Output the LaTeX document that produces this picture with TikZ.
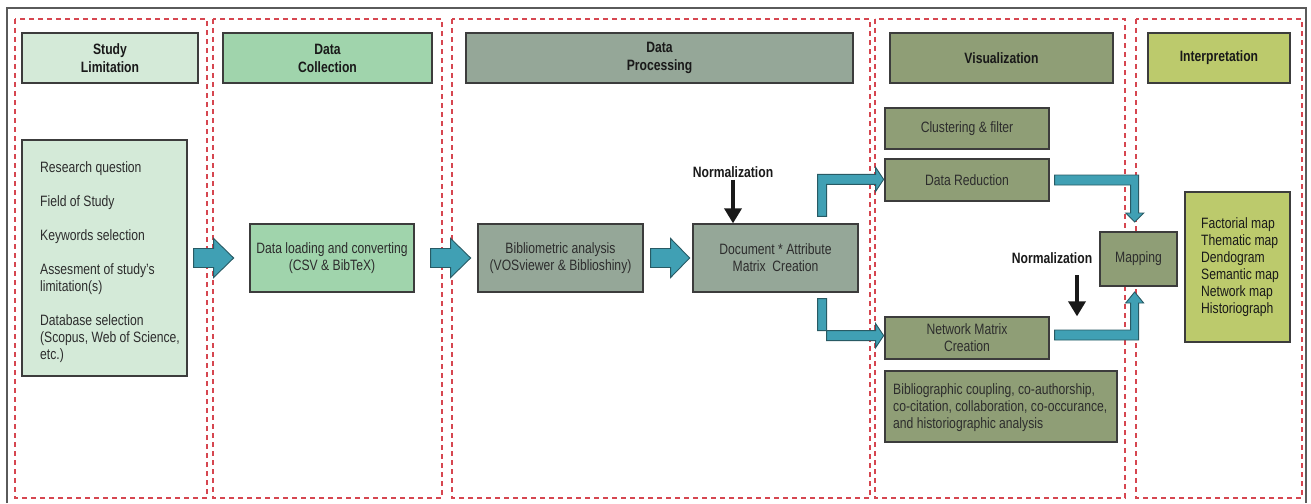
\documentclass[tikz,border=0pt]{standalone}
\usepackage{fontspec}
\setmainfont{Liberation Sans}[FakeStretch=0.81]
\usetikzlibrary{calc,arrows.meta}
\definecolor{cA}{RGB}{212,234,216}
\definecolor{cB}{RGB}{160,212,172}
\definecolor{cC}{RGB}{149,167,152}
\definecolor{cD}{RGB}{143,158,118}
\definecolor{cE}{RGB}{188,202,108}
\definecolor{tealF}{RGB}{64,160,180}
\definecolor{tealD}{RGB}{40,90,100}
\definecolor{redD}{RGB}{214,70,80}
\definecolor{bord}{RGB}{60,60,60}
\definecolor{txt}{RGB}{45,45,45}
\definecolor{frameC}{RGB}{90,90,90}
\begin{document}
\begin{tikzpicture}[x=1pt,y=-1pt,
  every node/.style={font=\fontsize{15}{17}\selectfont, text=txt},
  box/.style={draw=bord, line width=1.3pt, inner sep=0pt, align=center},
  hdr/.style={box, font=\bfseries\fontsize{15}{18}\selectfont, text=black!90, minimum height=50},
  plain/.style={anchor=north west, align=left, inner sep=0pt},
  panel/.style={draw=redD, line width=1.2pt, dash pattern=on 5pt off 4pt},
  barrow/.style={fill=tealF, draw=tealD, line width=0.9pt, line join=miter},
  narrow/.style={draw=black!90, line width=3.5pt, -{Triangle[width=17pt,length=15pt]}},
  lbl/.style={font=\bfseries\fontsize{15}{17}\selectfont, text=black!90, inner sep=2pt}]
\useasboundingbox (0,0) rectangle (1311,503);
\fill[white] (0,0) rectangle (1311,503);
\draw[frameC, line width=1.5pt] (7,503) -- (7,8) -- (1306,8) -- (1306,503);

% panels
\draw[panel] (15,19) rectangle (207,498);
\draw[panel] (213,19) rectangle (442,498);
\draw[panel] (452,19) rectangle (870,498);
\draw[panel] (875,19) rectangle (1125,498);
\draw[panel] (1136,19) rectangle (1302,498);

% headers
\node[hdr, fill=cA, minimum width=176] (h1) at (110,58) {Study\\Limitation};
\node[hdr, fill=cB, minimum width=209] (h2) at (327.5,58) {Data\\Collection};
\node[hdr, fill=cC, minimum width=387] (h3) at (659.5,58) {Data\\Processing};
\node[hdr, fill=cD, minimum width=223] (h4) at (1001.5,58) {Visualization};
\node[hdr, fill=cE, minimum width=142] (h5) at (1219,58) {Interpretation};

% study limitation
\node[box, fill=cA, minimum width=165, minimum height=236] (sl) at (104.5,258) {};
\node[plain] (sltxt) at (40,161.5) {Research question\\[17pt]
Field of Study\\[17pt]
Keywords selection\\[17pt]
Assesment of study’s\\limitation(s)\\[17pt]
Database selection\\(Scopus, Web of Science,\\etc.)};

% data collection
\node[box, fill=cB, minimum width=164, minimum height=68] (dl) at (332,258) {Data loading and converting\\(CSV \& BibTeX)};

% data processing
\node[box, fill=cC, minimum width=165, minimum height=68] (ba) at (560.5,258) {Bibliometric analysis\\(VOSviewer \& Biblioshiny)};
\node[box, fill=cC, minimum width=165, minimum height=68] (dm) at (775.5,258) {Document * Attribute\\Matrix\ \ Creation};
\node[lbl] (n1) at (733,172) {Normalization};
\draw[narrow] (n1.south) -- (n1.south |- dm.north);

% visualization
\node[box, fill=cD, minimum width=164, minimum height=41] (cf) at (967,128.5) {Clustering \& filter};
\node[box, fill=cD, minimum width=164, minimum height=42] (dr) at (967,180) {Data Reduction};
\node[box, fill=cD, minimum width=164, minimum height=42] (nm) at (967,338) {Network Matrix\\Creation};
\node[box, fill=cD, minimum width=232, minimum height=71] (bc) at (1001,406.5) {};
\node[plain] (bctxt) at (893,383) {Bibliographic coupling, co-authorship,\\co-citation, collaboration, co-occurance,\\and historiographic analysis};
\node[box, fill=cD, minimum width=77, minimum height=54] (mp) at (1138.5,259) {Mapping};
\node[lbl] (n2) at (1052,258) {Normalization};
\coordinate (n2a) at (1077,275);
\draw[narrow] (n2a) -- (n2a |- nm.north);

% interpretation
\node[box, fill=cE, minimum width=105, minimum height=150] (ib) at (1237.5,267) {};
\node[plain, text=black!90] (ibtxt) at (1201,217) {\baselineskip=16.8pt Factorial map\\Thematic map\\Dendogram\\Semantic map\\Network map\\Historiograph};

% block arrows
\draw[barrow] ($(sl.east)+(6,-9.5)$) -- ++(20,0) -- ++(0,-10) -- ++(20,19.5) -- ++(-20,19.5) -- ++(0,-10) -- ++(-20,0) -- cycle;
\draw[barrow] ($(dl.east)+(16,-9.5)$) -- ++(20,0) -- ++(0,-10) -- ++(20,19.5) -- ++(-20,19.5) -- ++(0,-10) -- ++(-20,0) -- cycle;
\draw[barrow] ($(ba.east)+(7,-9.5)$) -- ++(20,0) -- ++(0,-10) -- ++(19,19.5) -- ++(-19,19.5) -- ++(0,-10) -- ++(-20,0) -- cycle;
\draw[barrow] ($(dm.north east)+(-41,-7)$) -- ++(0,-42) -- ++(58,0) -- ++(0,-7) -- ++(8,12) -- ++(-8,12) -- ++(0,-7) -- ++(-49,0) -- ++(0,32) -- cycle;
\draw[barrow] ($(dm.south east)+(-41,6)$) -- ++(0,32) -- ++(58,0) -- ++(0,-7) -- ++(8,12) -- ++(-8,12) -- ++(0,-7) -- ++(-49,0) -- ++(0,-42) -- cycle;
\draw[barrow] ($(dr.east)+(5,-5)$) -- ++(84,0) -- ++(0,38) -- ++(5,0) -- ++(-9,9) -- ++(-9,-9) -- ++(5,0) -- ++(0,-28) -- ++(-76,0) -- cycle;
\draw[barrow] ($(nm.east)+(5,2)$) -- ++(84,0) -- ++(0,-37) -- ++(5,0) -- ++(-9,-11) -- ++(-9,11) -- ++(5,0) -- ++(0,27) -- ++(-76,0) -- cycle;
\end{tikzpicture}
\end{document}
